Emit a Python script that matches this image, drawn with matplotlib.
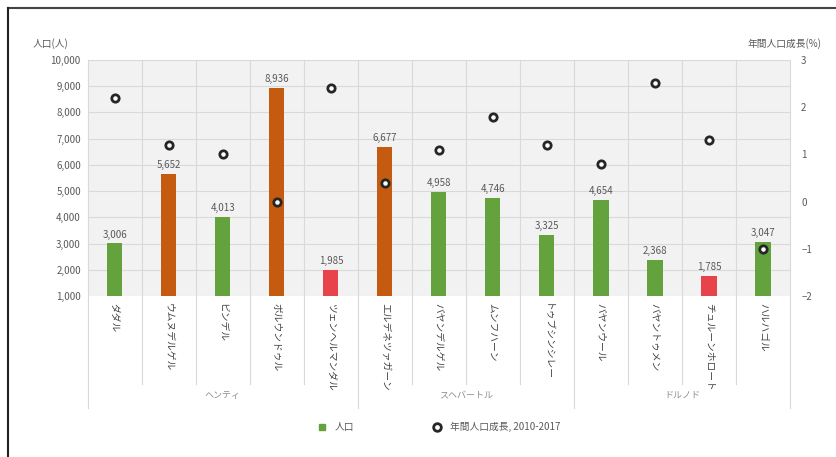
import matplotlib.pyplot as plt
from matplotlib.lines import Line2D
from matplotlib.transforms import blended_transform_factory

plt.rcParams['font.family'] = ['Noto Sans CJK JP', 'DejaVu Sans']

# データ
soums = ['ダダル', 'ウムヌデルゲル', 'ビンデル', 'ボルウンドゥル', 'ツェンヘルマンダル',
         'エルデネツァガーン', 'バヤンデルゲル', 'ムンフハーン', 'トゥブシンシレー',
         'バヤンウール', 'バヤントゥメン', 'チュルーンホロート', 'ハルハゴル']
population = [3006, 5652, 4013, 8936, 1985, 6677, 4958, 4746, 3325, 4654, 2368, 1785, 3047]
growth = [2.2, 1.2, 1.0, 0.0, 2.4, 0.4, 1.1, 1.8, 1.2, 0.8, 2.5, 1.3, -1.0]
bar_type = ['g', 'o', 'g', 'o', 'r', 'o', 'g', 'g', 'g', 'g', 'g', 'r', 'g']
aimags = ['ヘンティ', 'スヘバートル', 'ドルノド']
aimag_sizes = [5, 4, 4]

colors = {'g': '#63a23c', 'o': '#c55a11', 'r': '#e8424a'}
txt = '#595959'
grid_c = '#d9d9d9'

fig = plt.figure(figsize=(8.36, 4.57), dpi=100)
ax = fig.add_axes([0.105, 0.352, 0.84, 0.517])
ax.set_facecolor('#f2f2f2')
x = list(range(len(soums)))

ax.bar(x, population, width=0.28, color=[colors[t] for t in bar_type], zorder=3)
for xi, v in zip(x, population):
    ax.text(xi, v + 150, f'{v:,}', ha='center', va='bottom', fontsize=7, color=txt, zorder=4)

ax.set_ylim(1000, 10000)
ax.set_yticks(range(1000, 10001, 1000))
ax.set_yticklabels([f'{v:,}' for v in range(1000, 10001, 1000)], fontsize=7, color=txt)
ax.set_xlim(-0.5, len(soums) - 0.5)
ax.set_xticks(x)
ax.set_xticklabels(soums, rotation=-90, fontsize=7, color='#404040', va='top', ha='center')
ax.tick_params(length=0, pad=5)
ax.grid(axis='y', color=grid_c, linewidth=0.8, zorder=0)
for s in ax.spines.values():
    s.set_visible(False)

# カテゴリ区切り線
trans = blended_transform_factory(ax.transData, ax.transAxes)
bounds = [i + 0.5 for i in range(-1, len(soums))]
group_edges = [-0.5]
for n in aimag_sizes:
    group_edges.append(group_edges[-1] + n)
for b in bounds:
    low = -0.475 if b in group_edges else -0.37
    ax.plot([b, b], [1, low], transform=trans, color=grid_c, linewidth=0.8,
            clip_on=False, zorder=1)

# アイマグ名
for i, name in enumerate(aimags):
    c = (group_edges[i] + group_edges[i + 1]) / 2
    ax.text(c, -0.42, name, transform=trans, ha='center', va='center', fontsize=6.5, color='#8c8c8c')

ax2 = ax.twinx()
ax2.scatter(x, growth, s=28, facecolor='white', edgecolor='#262626', linewidth=2, zorder=5)
ax2.set_ylim(-2, 3)
ax2.set_yticks(range(-2, 4))
ax2.tick_params(length=0, labelsize=7, labelcolor=txt, pad=8)
for s in ax2.spines.values():
    s.set_visible(False)

fig.text(0.06, 0.905, '人口(人)', fontsize=7, color=txt, ha='center', va='center')
fig.text(0.983, 0.905, '年間人口成長(%)', fontsize=7, color=txt, ha='right', va='center')

handles = [Line2D([], [], marker='s', linestyle='', markersize=4, color='#63a23c'),
           Line2D([], [], marker='o', linestyle='', markersize=5.5, markerfacecolor='white',
                  markeredgecolor='#262626', markeredgewidth=2)]
fig.legend(handles, ['人口', '年間人口成長, 2010-2017'], loc='center', bbox_to_anchor=(0.522, 0.066),
           ncol=2, frameon=False, fontsize=7, labelcolor=txt, handletextpad=0.3, columnspacing=7.5)

# 外枠
fig.add_artist(Line2D([0.0096, 1.0], [0.9825, 0.9825], color='#444444', linewidth=1.5))
fig.add_artist(Line2D([0.0096, 0.0096], [0.0, 0.9825], color='#222222', linewidth=1.5))

fig.savefig('out.png', dpi=100)
